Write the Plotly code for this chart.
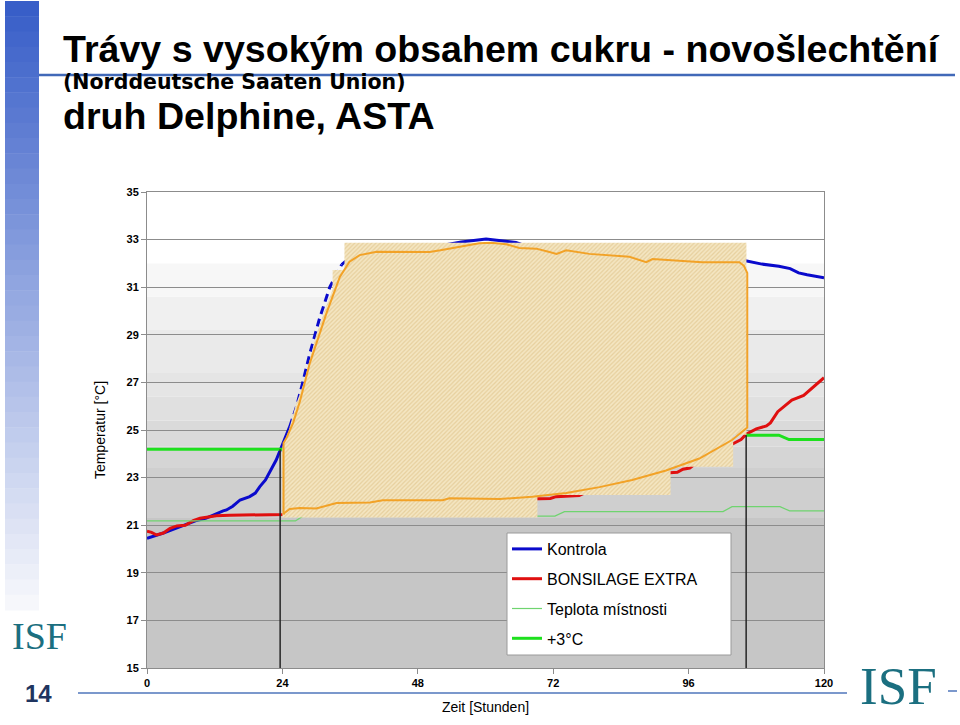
import plotly.graph_objects as go

# ---------------- data ----------------
x_ticks = [0, 24, 48, 72, 96, 120]
y_ticks = [15, 17, 19, 21, 23, 25, 27, 29, 31, 33, 35]

kontrola_hours = [0, 1.5, 2.9, 4.4, 5.8, 7.3, 8.8, 10.5, 12.3, 13.5, 14.1, 15.2, 16.5, 18.2, 19.2,
                  20.0, 21.0, 21.8, 22.9, 24.1, 25.3, 26.5, 27.5, 28.85, 30.6, 32.4, 34.5, 36,
                  38, 41, 45, 50, 53, 55.7, 58, 60.1, 62, 63.7, 65.4, 67, 70, 75, 80, 85, 90,
                  95, 100, 103, 106.1, 109, 112, 114, 115.5, 117, 120]
kontrola_temp = [20.45, 20.55, 20.67, 20.8, 20.92, 21.05, 21.2, 21.3, 21.5, 21.6, 21.64, 21.8, 22.06,
                 22.2, 22.35, 22.62, 22.9, 23.25, 23.74, 24.44, 25.14, 25.98, 26.9, 28.2, 29.7, 31.0,
                 31.95, 32.25, 32.45, 32.55, 32.6, 32.7, 32.78, 32.9, 32.97, 33.02, 32.97, 32.94,
                 32.88, 32.75, 32.6, 32.5, 32.4, 32.35, 32.3, 32.25, 32.2, 32.15, 32.11, 31.97,
                 31.88, 31.78, 31.6, 31.52, 31.4]

bonsilage_hours = [0, 0.8, 1.7, 2.9, 4.1, 5.3, 6.8, 8.2, 9.4, 11.2, 12.3, 14.7, 18, 23.8, 24.5, 27,
                   30, 35, 40, 45, 50, 55, 60, 65, 69, 71.5, 72.5, 74.3, 76.6, 78, 82, 86, 90, 92.6,
                   92.7, 94, 95, 96.2, 97, 100, 103.4, 104, 105.3, 106.2, 108, 109.8, 110.5, 111.8,
                   113, 114.3, 116.4, 118.4, 120]
bonsilage_temp = [20.75, 20.7, 20.59, 20.67, 20.87, 20.97, 21.0, 21.19, 21.29, 21.36, 21.4, 21.42,
                  21.42, 21.42, 21.45, 21.6, 21.7, 21.85, 21.95, 21.98, 22.0, 22.05, 22.08, 22.1,
                  22.12, 22.12, 22.2, 22.23, 22.25, 22.4, 22.6, 22.8, 23.05, 23.2, 23.2, 23.22,
                  23.35, 23.4, 23.55, 23.95, 24.38, 24.45, 24.6, 24.82, 25.05, 25.17, 25.3, 25.77,
                  26.0, 26.26, 26.45, 26.85, 27.2]

room_hours = [0, 26.3, 27.5, 30, 40, 50, 60, 69.1, 72.3, 74.0, 102.1, 103.7, 112.2, 113.9, 120]
room_temp = [21.18, 21.18, 21.36, 21.4, 21.4, 21.4, 21.4, 21.38, 21.38, 21.57, 21.57, 21.78, 21.78,
             21.6, 21.6]

plus3_hours = [0, 24.0, None, 106.2, 112.0, 113.8, 120]
plus3_temp = [24.19, 24.19, None, 24.78, 24.78, 24.6, 24.6]

# hatched overlay region (staircase outline)
hatch_hours = [24.0, 24.0, 25.15, 26.3, 27.8, 28.9, 30.0, 31.45, 32.4, 32.9, 32.9, 35.0, 35.0,
               106.25, 106.25, 103.9, 103.9, 92.8, 92.8, 69.2, 69.2, 24.0]
hatch_temp = [21.32, 24.3, 25.0, 26.0, 27.0, 28.0, 29.0, 30.0, 30.6, 30.9, 31.72, 31.72, 32.87,
              32.87, 24.8, 24.8, 23.46, 23.46, 22.27, 22.27, 21.32, 21.32]

# orange outline inside the hatched region
outline_hours = [24.2, 24.2, 24.8, 25.9, 27.1, 28.85, 31.8, 34.2, 35.9, 37.7, 40.7, 45, 50.1, 52,
                 54.9, 56.5, 58.9, 61, 63.7, 66, 69, 71, 72.6, 74.3, 76, 78.4, 85.5, 88.5, 89.6,
                 95, 98.4, 105, 105.8, 106.4, 106.4, 103.7, 97.9, 92, 86, 80.2, 74.3, 68.3, 62.5,
                 53.6, 52.4, 41.8, 39.5, 33.6, 30, 27.1, 25.3, 24.3, 24.2]
outline_temp = [21.45, 24.45, 24.7, 25.3, 26.2, 27.8, 29.9, 31.44, 32.07, 32.35, 32.49, 32.48,
                32.48, 32.55, 32.68, 32.72, 32.85, 32.87, 32.8, 32.65, 32.62, 32.5, 32.4, 32.55,
                32.5, 32.4, 32.28, 32.05, 32.18, 32.1, 32.05, 32.05, 31.9, 31.6, 25.1, 24.58, 23.8,
                23.3, 22.9, 22.6, 22.35, 22.2, 22.1, 22.13, 22.05, 22.05, 21.95, 21.93, 21.7,
                21.72, 21.68, 21.5, 21.45]

drop_hours = [23.6, 106.2]
drop_top = [24.19, 24.78]

series_names = ["Kontrola", "BONSILAGE EXTRA", "Teplota místnosti", "+3°C"]

# background gradient bands (temperature ranges, colours)
band_lo = [15, 21.3, 23.4, 24.3, 25.4, 26.4, 27.4, 29.2, 30.6]
band_hi = [21.3, 23.4, 24.3, 25.4, 26.4, 27.4, 29.2, 30.6, 32.0]
band_col = ['#c6c6c6', '#cfcfcf', '#d5d5d5', '#dadada', '#e0e0e0', '#e5e5e5', '#eaeaea',
            '#f0f0f0', '#f7f7f7']

# ---------------- layout helpers ----------------
W, H = 960, 725
L, R, T, B = 147, 824, 192, 668


def px(x):
    return (x - L) / (R - L)


def py(y):
    return (B - y) / (B - T)


BLUE = '#0a0acc'
RED = '#e01010'
GREEN = '#1ee01e'
THIN_GREEN = '#6fd46f'
ORANGE = '#f2a227'

fig = go.Figure()

# Kontrola: solid start, dashed climb, solid rest
dash_from, dash_to = 25.3, 34.5
seg_a = [(h, t) for h, t in zip(kontrola_hours, kontrola_temp) if h <= dash_from]
seg_b = [(h, t) for h, t in zip(kontrola_hours, kontrola_temp) if dash_from <= h <= dash_to]
seg_c = [(h, t) for h, t in zip(kontrola_hours, kontrola_temp) if h >= dash_to]
for i, (seg, dash) in enumerate([(seg_a, 'solid'), (seg_b, '8px,5px'), (seg_c, 'solid')]):
    fig.add_trace(go.Scatter(
        x=[s[0] for s in seg], y=[s[1] for s in seg], mode='lines',
        line=dict(color=BLUE, width=3, dash=dash),
        name=series_names[0], legendgroup='g0', showlegend=(i == 0), hoverinfo='skip'))

fig.add_trace(go.Scatter(x=bonsilage_hours, y=bonsilage_temp, mode='lines',
                         line=dict(color=RED, width=3), name=series_names[1],
                         legendgroup='g1'))
fig.add_trace(go.Scatter(x=room_hours, y=room_temp, mode='lines',
                         line=dict(color=THIN_GREEN, width=1.2), name=series_names[2],
                         legendgroup='g2'))
fig.add_trace(go.Scatter(x=plus3_hours, y=plus3_temp, mode='lines',
                         line=dict(color=GREEN, width=3), name=series_names[3],
                         legendgroup='g3', connectgaps=False))

# hatched overlay
fig.add_trace(go.Scatter(x=hatch_hours, y=hatch_temp, mode='lines', fill='toself',
                         line=dict(width=0, color='rgba(0,0,0,0)'),
                         fillcolor='#d8b878',
                         fillpattern=dict(shape='/', bgcolor='#f4e6c2', fgcolor='#d8b878',
                                          size=3, solidity=0.4),
                         showlegend=False, hoverinfo='skip'))
fig.add_trace(go.Scatter(x=outline_hours, y=outline_temp, mode='lines',
                         line=dict(color=ORANGE, width=2), showlegend=False, hoverinfo='skip'))

# vertical drop lines
for h, top in zip(drop_hours, drop_top):
    fig.add_trace(go.Scatter(x=[h, h], y=[15, top], mode='lines',
                             line=dict(color='#262626', width=1.5),
                             showlegend=False, hoverinfo='skip'))

shapes = []
# plot background bands
for lo, hi, c in zip(band_lo, band_hi, band_col):
    shapes.append(dict(type='rect', xref='x domain', yref='y', x0=0, x1=1, y0=lo, y1=hi,
                       fillcolor=c, line=dict(width=0), layer='below'))

# left decorative gradient bar
n = 40
c0 = (56, 94, 200)
c1 = (246, 247, 251)
bar_top, bar_bot = 1, 610
for i in range(n):
    f = i / (n - 1)
    col = 'rgb(%d,%d,%d)' % tuple(round(c0[k] + (c1[k] - c0[k]) * f) for k in range(3))
    y0 = bar_top + (bar_bot - bar_top) * i / n
    y1 = bar_top + (bar_bot - bar_top) * (i + 1) / n + 0.5
    shapes.append(dict(type='rect', xref='paper', yref='paper', x0=px(5), x1=px(39),
                       y0=py(y1), y1=py(y0), fillcolor=col, line=dict(width=0), layer='below'))

# title rule and footer rule
shapes.append(dict(type='line', xref='paper', yref='paper', x0=px(39), x1=px(955),
                   y0=py(75), y1=py(75), line=dict(color='#4169b8', width=2.5), layer='below'))
shapes.append(dict(type='line', xref='paper', yref='paper', x0=px(78), x1=px(847),
                   y0=py(693), y1=py(693), line=dict(color='#7b98cc', width=2), layer='below'))
shapes.append(dict(type='line', xref='paper', yref='paper', x0=px(948), x1=px(957),
                   y0=py(691), y1=py(691), line=dict(color='#7b98cc', width=2), layer='below'))
# legend box
shapes.append(dict(type='rect', xref='paper', yref='paper', x0=px(507), x1=px(731),
                   y0=py(655), y1=py(533), fillcolor='white',
                   line=dict(color='#9a9a9a', width=1), layer='above'))

ann = []


def text(s, x, y, size, color='black', family='Arial, Liberation Sans, sans-serif',
         weight='normal', xanchor='left'):
    ann.append(dict(text=s, xref='paper', yref='paper', x=px(x), y=py(y), xanchor=xanchor,
                    yanchor='middle', showarrow=False, borderpad=0,
                    font=dict(size=size, color=color, family=family, weight=weight)))


text('Trávy s vysokým obsahem cukru - novošlechtění', 62, 49.3, 37.6, weight='bold')
text('(Norddeutsche Saaten Union)', 62, 82.5, 20.5, weight='bold',
     family='DejaVu Sans, Arial, sans-serif')
text('druh Delphine, ASTA', 62, 116.3, 37.6, weight='bold')
text('ISF', 39, 636, 38, color='#1b6f80', family='Liberation Serif, Times New Roman, serif',
     xanchor='center')
text('14', 38, 693, 24, color='#1f3560', weight='bold', xanchor='center')
text('ISF', 898, 686, 53, color='#1b6f80', family='Liberation Serif, Times New Roman, serif',
     xanchor='center')

fig.update_layout(
    width=W, height=H,
    margin=dict(l=L, r=W - R, t=T, b=H - B, pad=0),
    paper_bgcolor='white', plot_bgcolor='white',
    font=dict(family='Arial, Liberation Sans, sans-serif', color='black'),
    shapes=shapes, annotations=ann,
    legend=dict(x=px(507), y=py(532), xanchor='left', yanchor='top',
                bgcolor='rgba(0,0,0,0)', borderwidth=0, font=dict(size=16, color='black'),
                tracegroupgap=6, itemwidth=30),
    xaxis=dict(range=[0, 120], tickvals=x_ticks, showgrid=False, zeroline=False,
               showline=True, linecolor='#8c8c8c', linewidth=1, mirror=True,
               ticks='outside', ticklen=5, tickcolor='#8c8c8c',
               tickfont=dict(size=11, weight='bold', color='black'),
               title=dict(text='Zeit [Stunden]', font=dict(size=14), standoff=13)),
    yaxis=dict(range=[15, 35], tickvals=y_ticks, showgrid=True, gridcolor='#8c8c8c',
               gridwidth=1, zeroline=False, showline=True, linecolor='#8c8c8c',
               linewidth=1, mirror=True, ticks='outside', ticklen=5, tickcolor='#8c8c8c',
               tickfont=dict(size=11, weight='bold', color='black'),
               title=dict(text='Temperatur [°C]', font=dict(size=14), standoff=17)),
)

fig.write_html('out.html', post_script="document.body.style.margin='0';",
               config={'displayModeBar': False})
